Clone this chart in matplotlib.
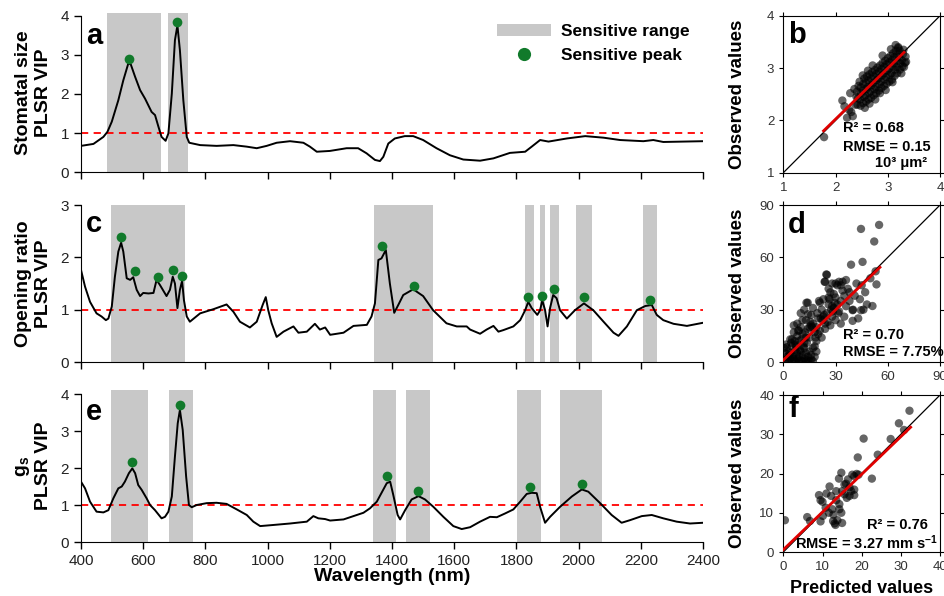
import matplotlib.pyplot as plt
from matplotlib.patches import Patch
from matplotlib.lines import Line2D

plt.rcParams['font.family'] = ['Liberation Sans', 'DejaVu Sans']
plt.rcParams['mathtext.fontset'] = 'custom'
plt.rcParams['mathtext.rm'] = 'Liberation Sans:bold'
plt.rcParams['mathtext.it'] = 'Liberation Sans:bold'
plt.rcParams['mathtext.bf'] = 'Liberation Sans:bold'

# ---- VIP spectra ----
wl_a = [400, 440, 472, 485, 499, 520, 536, 552, 560, 574, 590, 606, 627, 638, 649, 659, 672,
        681, 692, 702, 710, 718, 729, 740, 748, 783, 836, 890, 933, 965, 997, 1029, 1072,
        1115, 1136, 1158, 1200, 1254, 1291, 1318, 1345, 1361, 1372, 1388, 1409, 1441, 1468,
        1500, 1543, 1586, 1629, 1683, 1726, 1779, 1828, 1849, 1876, 1903, 1962, 2021, 2080,
        2133, 2208, 2240, 2272, 2337, 2400]
vip_a = [0.67, 0.72, 0.90, 1.03, 1.29, 1.84, 2.35, 2.78, 2.76, 2.44, 2.10, 1.88, 1.54, 1.46,
         1.16, 0.90, 0.80, 0.99, 2.01, 3.38, 3.76, 3.12, 1.84, 0.90, 0.75, 0.69, 0.67, 0.69,
         0.65, 0.61, 0.67, 0.75, 0.79, 0.75, 0.65, 0.52, 0.54, 0.61, 0.61, 0.48, 0.31, 0.28,
         0.39, 0.73, 0.86, 0.92, 0.92, 0.82, 0.61, 0.43, 0.32, 0.29, 0.35, 0.49, 0.52, 0.65,
         0.82, 0.78, 0.86, 0.92, 0.88, 0.82, 0.79, 0.82, 0.77, 0.78, 0.79]

wl_c = [400, 413, 429, 450, 466, 480, 488, 499, 509, 520, 529, 536, 547, 558, 568, 579, 590,
        600, 617, 633, 643, 654, 675, 686, 695, 702, 710, 718, 725, 731, 740, 750, 783, 826,
        868, 890, 911, 943, 965, 984, 994, 1002, 1013, 1029, 1051, 1083, 1099, 1126, 1152,
        1168, 1185, 1201, 1244, 1276, 1319, 1334, 1345, 1356, 1366, 1380, 1393, 1407, 1420,
        1436, 1468, 1500, 1532, 1575, 1608, 1640, 1651, 1683, 1704, 1726, 1742, 1758, 1790,
        1812, 1828, 1838, 1849, 1867, 1876, 1883, 1892, 1900, 1908, 1918, 1929, 1940, 1962,
        1988, 2017, 2047, 2080, 2112, 2128, 2155, 2187, 2214, 2235, 2251, 2272, 2305, 2348,
        2400]
vip_c = [1.76, 1.44, 1.15, 0.93, 0.87, 0.80, 0.83, 1.06, 1.63, 2.11, 2.28, 2.11, 1.60, 1.57,
         1.62, 1.38, 1.26, 1.32, 1.31, 1.32, 1.57, 1.47, 1.26, 1.38, 1.63, 1.50, 1.03, 1.38,
         1.55, 1.18, 0.87, 0.77, 0.93, 1.01, 1.10, 0.96, 0.77, 0.66, 0.77, 1.09, 1.24, 0.99,
         0.74, 0.48, 0.58, 0.68, 0.56, 0.58, 0.73, 0.62, 0.66, 0.52, 0.56, 0.69, 0.71, 0.87,
         1.12, 1.95, 1.98, 2.14, 1.50, 0.94, 1.09, 1.28, 1.39, 1.26, 0.99, 0.74, 0.68, 0.68,
         0.62, 0.54, 0.62, 0.69, 0.58, 0.61, 0.68, 0.80, 0.99, 1.15, 1.03, 0.90, 0.99, 1.18,
         0.99, 0.68, 1.03, 1.28, 1.22, 0.99, 0.83, 0.99, 1.12, 0.99, 0.77, 0.56, 0.50, 0.68,
         0.99, 1.07, 1.09, 0.90, 0.80, 0.73, 0.69, 0.75]

wl_e = [400, 413, 429, 450, 472, 488, 504, 520, 531, 541, 554, 565, 574, 584, 595, 611, 622,
        638, 659, 670, 681, 692, 702, 711, 718, 727, 738, 747, 756, 772, 804, 836, 868, 901,
        933, 954, 976, 1018, 1072, 1126, 1147, 1163, 1185, 1201, 1244, 1276, 1308, 1329,
        1351, 1383, 1394, 1404, 1418, 1426, 1442, 1463, 1485, 1506, 1533, 1565, 1597, 1624,
        1651, 1683, 1715, 1737, 1763, 1790, 1812, 1833, 1849, 1865, 1876, 1892, 1908, 1940,
        1978, 2010, 2031, 2069, 2106, 2138, 2165, 2203, 2235, 2272, 2315, 2358, 2400]
vip_e = [1.63, 1.45, 1.09, 0.82, 0.80, 0.86, 1.18, 1.45, 1.50, 1.63, 1.86, 1.99, 1.86, 1.54,
         1.41, 1.18, 1.00, 0.86, 0.64, 0.68, 0.82, 1.23, 2.31, 3.21, 3.57, 3.03, 1.77, 1.00,
         0.94, 1.00, 1.05, 1.06, 1.03, 0.88, 0.73, 0.55, 0.43, 0.46, 0.50, 0.55, 0.70, 0.64,
         0.62, 0.58, 0.61, 0.70, 0.79, 0.91, 1.09, 1.59, 1.63, 1.27, 0.73, 0.61, 0.86, 1.15,
         1.24, 1.15, 0.95, 0.68, 0.43, 0.35, 0.40, 0.55, 0.68, 0.67, 0.77, 0.88, 1.09, 1.30,
         1.33, 1.32, 0.95, 0.52, 0.68, 0.95, 1.23, 1.42, 1.36, 1.05, 0.73, 0.52, 0.59, 0.70,
         0.73, 0.64, 0.55, 0.50, 0.52]

# sensitive ranges (nm) and peaks
bands_a = [(484, 657), (680, 744)]
bands_c = [(496, 734), (1342, 1532), (1826, 1856), (1875, 1891), (1908, 1938),
           (1993, 2044), (2208, 2252)]
bands_e = [(496, 616), (684, 761), (1338, 1412), (1446, 1521), (1803, 1879), (1940, 2074)]

peak_a_x = [555, 708]
peak_a_y = [2.90, 3.85]
peak_c_x = [529, 574, 648, 695, 725, 1368, 1469, 1838, 1881, 1922, 2017, 2230]
peak_c_y = [2.39, 1.73, 1.63, 1.75, 1.64, 2.21, 1.46, 1.25, 1.27, 1.39, 1.24, 1.18]
peak_e_x = [565, 718, 1383, 1484, 1844, 2012]
peak_e_y = [2.15, 3.71, 1.78, 1.38, 1.50, 1.58]

# ---- predicted vs observed ----
pred_b = [1.78, 2.17, 2.13, 2.28, 2.30, 2.33, 2.38, 2.40, 2.36, 2.22, 2.26,
          2.42, 2.43, 2.41, 2.44, 2.48, 2.47, 2.49, 2.48, 2.46,
          2.53, 2.54, 2.52, 2.53, 2.55, 2.58, 2.57, 2.59, 2.58, 2.60,
          2.63, 2.64, 2.62, 2.63, 2.65, 2.68, 2.67, 2.69, 2.68, 2.70,
          2.73, 2.74, 2.72, 2.73, 2.75, 2.78, 2.77, 2.79, 2.78, 2.80,
          2.83, 2.84, 2.82, 2.83, 2.85, 2.88, 2.87, 2.89, 2.88, 2.90,
          2.93, 2.94, 2.92, 2.93, 2.95, 2.98, 2.97, 2.99, 2.98, 3.00,
          3.03, 3.04, 3.02, 3.03, 3.05, 3.08, 3.07, 3.09, 3.08, 3.10,
          3.13, 3.14, 3.12, 3.13, 3.15, 3.18, 3.17, 3.19, 3.18, 3.20,
          3.23, 3.24, 3.22, 3.23, 3.28, 3.27, 3.29, 3.33, 3.34,
          2.52, 2.71, 2.90, 3.15, 3.20, 2.65, 2.85, 3.09, 3.31, 3.35, 3.30,
          2.56, 2.62, 2.76, 2.96, 3.06, 3.26]
obs_b = [1.68, 2.27, 2.38, 2.52, 2.16, 2.08, 2.30, 2.45, 2.60, 2.05, 2.20,
         2.30, 2.42, 2.55, 2.66, 2.28, 2.40, 2.52, 2.63, 2.74,
         2.33, 2.45, 2.57, 2.70, 2.80, 2.36, 2.48, 2.60, 2.72, 2.84,
         2.40, 2.52, 2.64, 2.76, 2.88, 2.43, 2.55, 2.67, 2.80, 2.92,
         2.48, 2.60, 2.72, 2.84, 2.96, 2.52, 2.64, 2.77, 2.89, 3.01,
         2.57, 2.69, 2.81, 2.93, 3.05, 2.62, 2.74, 2.86, 2.98, 3.10,
         2.66, 2.78, 2.90, 3.02, 3.14, 2.70, 2.83, 2.95, 3.07, 3.19,
         2.74, 2.87, 2.99, 3.11, 3.23, 2.78, 2.90, 3.03, 3.15, 3.28,
         2.85, 2.97, 3.09, 3.21, 3.33, 2.90, 3.02, 3.14, 3.26, 3.38,
         2.97, 3.09, 3.21, 3.33, 3.03, 3.15, 3.27, 3.10, 3.22,
         2.86, 3.05, 3.24, 3.44, 3.40, 2.32, 2.52, 2.73, 3.02, 3.12, 3.35,
         2.24, 2.95, 2.40, 2.58, 3.36, 2.90]

pred_d = [1, 2, 3, 4, 5, 6, 7, 8, 9, 10, 11, 12, 13, 14, 15, 16, 17,
          1, 0.5, 1.5, 3, 2, 4, 5, 6, 7, 8, 9, 10, 11, 12, 13, 14, 15, 16, 17, 18, 19,
          5, 6, 7, 8, 9, 10, 11, 12, 13, 14, 15, 16, 17, 18, 19, 20, 8, 10, 12, 14,
          9, 11, 13, 15, 17, 19, 6, 4,
          21, 22, 23, 24, 25, 26, 27, 28, 29, 30, 31, 32, 33, 34, 35, 22, 24, 25, 26,
          28, 30, 32, 34, 36, 21, 23, 27, 29, 31, 33, 35, 36, 37, 38, 40, 42, 44, 45,
          46, 47, 43, 48, 18, 20, 16, 26, 28, 24, 30, 38, 33, 41, 50, 53,
          44.6, 55.0, 52.2, 38.9, 45.5, 53.5, 51.2, 39.8, 44.6, 39.8, 24.7, 23.7, 13.3, 14.2,
          2.5, 3.5, 6.5, 7.5, 9.5, 11.5, 13.5, 4.5, 8.5, 12.5, 16.5, 19.5, 21.5, 23.5,
          25.5, 27.5, 29.5, 31.5, 18.5, 20.5, 22.5, 26.5, 28.5, 15.5, 10.5, 5.5]
obs_d = [1, 3, 0.5, 2, 0.5, 1.5, 0.5, 2, 0.5, 1, 0.5, 2, 0.5, 1, 0.5, 1.5, 0.5,
         5, 8, 10, 6, 8.5, 5, 9, 4, 7, 5, 3, 6, 4, 8, 5, 3, 6, 4, 8, 3, 6,
         13, 17, 10, 15, 12, 20, 16, 11, 24, 19, 14, 27, 22, 17, 12, 25, 22, 28, 30, 34,
         18, 24, 14, 20, 31, 20, 21, 13,
         18, 30, 36, 22, 28, 33, 40, 26, 31, 37, 44, 29, 35, 41, 26, 14, 46, 50, 42,
         45, 45, 46, 46, 47, 34, 26, 21, 39, 33, 22, 38, 32, 42, 35, 30, 45, 36, 44,
         30, 40, 25, 33, 9, 16, 21, 37, 32, 19, 24, 40, 44, 38, 48, 52,
         76.3, 78.6, 69.1, 55.8, 57.4, 44.5, 32.1, 23.6, 29.7, 29.7, 50.2, 46.0, 34.0, 27.4,
         2, 4, 12, 9, 7, 9, 11, 11, 18, 17, 20, 28, 25, 27, 23, 30, 34, 28, 14, 35, 24,
         36, 29, 23, 13, 3]

pred_f = [0.4, 6.1, 6.8, 9.5, 9.1, 9.5, 10.0, 11.0, 11.8, 10.8, 12.5, 12.7, 13.1, 13.3,
          15.0, 12.2, 13.5, 14.3, 14.8, 13.5, 15.0, 14.8, 14.2, 16.0, 16.5, 15.6, 16.2,
          16.9, 17.6, 18.1, 18.7, 19.2, 18.1, 18.1, 19.0, 20.5, 22.6, 24.1, 27.4, 29.5,
          30.8, 32.2, 16.9, 15.6, 11.6, 10.1, 13.8, 12.8, 14.3, 17.3]
obs_f = [8.1, 8.9, 7.9, 7.8, 14.5, 13.2, 12.8, 14.9, 16.7, 11.3, 10.9, 7.9, 7.3, 6.9,
         7.4, 14.3, 13.2, 12.2, 10.0, 15.5, 15.5, 20.2, 18.7, 17.4, 18.5, 14.7, 13.8,
         14.3, 19.7, 19.3, 19.9, 19.7, 15.9, 14.5, 24.1, 28.9, 18.7, 24.8, 28.8, 32.8,
         31.1, 36.0, 16.5, 17.2, 10.0, 9.2, 8.1, 9.5, 10.9, 15.5]

# fitted regression lines (end points)
fit_b = ([1.77, 3.31], [1.80, 3.30])
fit_d = ([0, 55.5], [1.1, 54.3])
fit_f = ([0, 32.5], [0.6, 31.8])

band_col = '#c8c8c8'
peak_col = '#117a2b'

fig = plt.figure(figsize=(9.44, 5.96), dpi=100)


def spectrum(rect, wl, vip, bands, px, py, ymax, top, ylabel, letter, ly, xlab):
    ax = fig.add_axes(rect)
    for lo, hi in bands:
        ax.axvspan(lo, hi, color=band_col, lw=0, zorder=0)
    ax.axhline(1, color='red', ls=(0, (4, 3)), lw=1.3, zorder=1)
    ax.plot(wl, vip, color='black', lw=1.4, zorder=2)
    ax.plot(px, py, 'o', color=peak_col, ms=7, mec='none', zorder=3)
    ax.set_xlim(400, 2400)
    ax.set_ylim(0, top)
    ax.spines[['top', 'right']].set_visible(False)
    ax.spines['left'].set_bounds(0, ymax)
    ax.set_yticks(range(ymax + 1))
    ax.set_xticks(range(400, 2401, 200))
    ax.tick_params(direction='out', length=5, width=1, labelsize=11, labelcolor='#222')
    if not xlab:
        ax.tick_params(axis='x', labelbottom=False)
    ax.set_ylabel(ylabel, fontsize=14, fontweight='bold')
    ax.yaxis.set_label_coords(-0.047, 0.5)
    ax.text(0.008, ly, letter, transform=ax.transAxes, fontsize=21,
            fontweight='bold', va='baseline')
    return ax


def scatter(rect, x, y, fit, lim, ticks, letter, ly, texts):
    ax = fig.add_axes(rect)
    ax.scatter(x, y, s=36, c='black', alpha=0.6, edgecolors='none', zorder=2)
    ax.plot(lim, lim, color='black', lw=0.9, zorder=3)
    ax.plot(fit[0], fit[1], color='#e00000', lw=2, zorder=4)
    ax.set_xlim(lim)
    ax.set_ylim(lim)
    ax.set_xticks(ticks)
    ax.set_yticks(ticks)
    ax.tick_params(direction='out', length=3, width=0.8, labelsize=9.5,
                   labelcolor='#333', top=True, right=True)
    ax.set_ylabel('Observed values', fontsize=13.5, fontweight='bold')
    ax.yaxis.set_label_coords(-0.238, 0.5)
    ax.text(0.03, ly, letter, transform=ax.transAxes, fontsize=21,
            fontweight='bold', va='baseline')
    for tx, ty, s, ha in texts:
        ax.text(tx, ty, s, transform=ax.transAxes, fontsize=10.5,
                fontweight='bold', ha=ha, va='center', zorder=5)
    return ax


ax_a = spectrum([0.0858, 0.7114, 0.659, 0.267], wl_a, vip_a, bands_a, peak_a_x, peak_a_y,
                4, 4.08, 'Stomatal size\nPLSR VIP', 'a', 0.804, False)
ax_c = spectrum([0.0858, 0.3926, 0.659, 0.2634], wl_c, vip_c, bands_c, peak_c_x, peak_c_y,
                3, 3.0, 'Opening ratio\nPLSR VIP', 'c', 0.828, False)
ax_e = spectrum([0.0858, 0.0906, 0.659, 0.2545], wl_e, vip_e, bands_e, peak_e_x, peak_e_y,
                4, 4.1, 'g$_s$\nPLSR VIP', 'e', 0.804, True)
ax_e.set_xlabel('Wavelength (nm)', fontsize=14, fontweight='bold')
ax_e.xaxis.set_label_coords(0.5, -0.171)

handles = [Patch(facecolor=band_col, edgecolor='none'),
           Line2D([], [], marker='o', ls='none', color=peak_col, ms=9.5, mec='none')]
ax_a.legend(handles, ['Sensitive range', 'Sensitive peak'], loc='upper left',
            bbox_to_anchor=(497 / 944, 1 - 24 / 596), bbox_transform=fig.transFigure,
            frameon=False, prop={'weight': 'bold', 'size': 12.5}, handlelength=3.1,
            handletextpad=0.6, labelspacing=0.5, borderpad=0, borderaxespad=0)

scatter([0.8298, 0.7102, 0.166, 0.2634], pred_b, obs_b, fit_b, [1, 4], [1, 2, 3, 4], 'b', 0.826,
        [(0.38, 0.285, 'R² = 0.68', 'left'), (0.38, 0.164, 'RMSE = 0.15', 'left'),
         (0.92, 0.06, '10³ μm²', 'right')])
scatter([0.8298, 0.3926, 0.166, 0.2634], pred_d, obs_d, fit_d, [0, 90], [0, 30, 60, 90], 'd', 0.82,
        [(0.38, 0.172, 'R² = 0.70', 'left'), (0.38, 0.064, 'RMSE = 7.75%', 'left')])
ax_f = scatter([0.8298, 0.0738, 0.166, 0.2634], pred_f, obs_f, fit_f, [0, 40],
               [0, 10, 20, 30, 40], 'f', 0.862,
               [(0.92, 0.172, 'R² = 0.76', 'right'),
                (0.99, 0.06, 'RMSE = 3.27 mm s$^{-1}$', 'right')])
ax_f.set_xlabel('Predicted values', fontsize=13, fontweight='bold')
ax_f.xaxis.set_label_coords(0.5, -0.18)

fig.savefig('out.png', dpi=100)
